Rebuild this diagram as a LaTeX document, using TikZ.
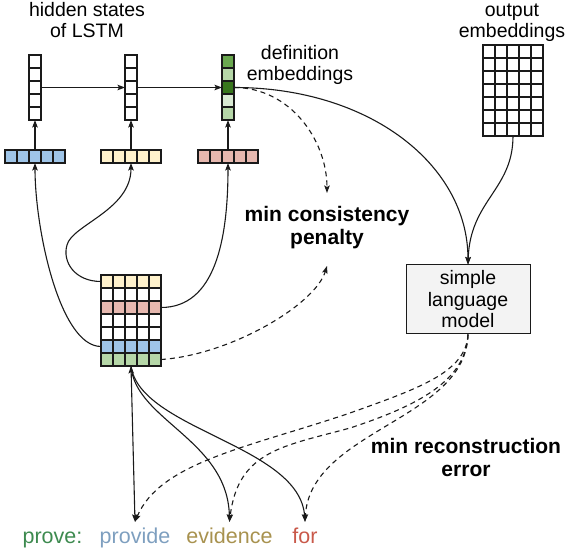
\documentclass[tikz,border=0pt]{standalone}
\usepackage{fontspec}
\setmainfont{Liberation Sans}
\usetikzlibrary{arrows.meta}
\definecolor{cblue}{HTML}{9FC5E8}
\definecolor{cyellow}{HTML}{FFF2CC}
\definecolor{cred}{HTML}{E6B8AF}
\definecolor{cgl}{HTML}{B6D7A8}
\definecolor{cgm}{HTML}{6AA84F}
\definecolor{cgd}{HTML}{38761D}
\definecolor{cgv}{HTML}{D9EAD3}
\definecolor{lmfill}{HTML}{F3F3F3}
\definecolor{wprove}{HTML}{3D8A4F}
\definecolor{wprovide}{HTML}{7E9FBF}
\definecolor{wevid}{HTML}{A8924F}
\definecolor{wfor}{HTML}{C9594A}
\definecolor{linec}{HTML}{1A1A1A}
\begin{document}
\begin{tikzpicture}[x=1pt,y=-1pt,
 cellbox/.style={draw=linec, line width=1.1pt, minimum width=12pt, minimum height=13pt, inner sep=0pt, outer sep=0pt},
 conn/.style={draw=linec, line width=1.1pt},
 tip/.style={-{Stealth[length=7.5pt,width=5.5pt,inset=1.5pt]}},
 dtip/.style={{Stealth[length=7.5pt,width=5.5pt,inset=1.5pt]}-{Stealth[length=7.5pt,width=5.5pt,inset=1.5pt]}},
 dsh/.style={dash pattern=on 5pt off 4pt},
 lbl/.style={font=\fontsize{19.5}{21.5}\selectfont, align=center, anchor=base, inner sep=0pt},
 blbl/.style={font=\fontsize{21}{23}\selectfont\bfseries, align=center, anchor=base, inner sep=0pt},
 word/.style={font=\fontsize{21.5}{24}\selectfont, anchor=base, inner xsep=0pt, inner ysep=6.5pt, text height=15pt, text depth=4pt}
]
\useasboundingbox (0,0) rectangle (566,548);

% hidden state columns
\foreach \c/\xx in {1/35,2/131}{
  \foreach \k in {1,...,5}{
    \node[cellbox, fill=white] (h\c-\k) at (\xx,{48.5+13*\k}) {};
  }
}
\foreach \k/\f in {1/cgm,2/cgl,3/cgd,4/cgv,5/cgl}{
  \node[cellbox, fill=\f] (h3-\k) at (228,{48.5+13*\k}) {};
}

% input vectors
\foreach \k in {1,...,5}{
  \node[cellbox, fill=cblue] (b-\k) at ({-1+12*\k},156.5) {};
  \node[cellbox, fill=cyellow] (y-\k) at ({95+12*\k},156.5) {};
  \node[cellbox, fill=cred] (r-\k) at ({192+12*\k},156.5) {};
}

% embedding matrix
\foreach \r/\f in {1/cyellow,2/white,3/cred,4/white,5/white,6/cblue,7/cgl}{
  \foreach \k in {1,...,5}{
    \node[cellbox, fill=\f] (m-\r-\k) at ({95+12*\k},{268.5+13*\r}) {};
  }
}

% output embeddings
\foreach \r in {1,...,7}{
  \foreach \k in {1,...,5}{
    \node[cellbox, fill=white] (o-\r-\k) at ({477+12*\k},{38.5+13*\r}) {};
  }
}

% language model box
\node[draw=linec, line width=1pt, fill=lmfill, minimum width=124pt, minimum height=69pt,
      align=center, font=\fontsize{19.5}{21.5}\selectfont, inner sep=0pt] (lm) at (468,299.5)
      {simple\\language\\model};

% labels (anchor base = baseline of the last line)
\node[lbl] (thid) at (87,38) {hidden states\\of LSTM};
\node[lbl] (tdef) at (300,81) {definition\\embeddings};
\node[lbl] (tout) at (512,38) {output\\embeddings};
\node[blbl] (tpen) at (327,245) {min consistency\\penalty};
\node[blbl] (trec) at (466,477) {min reconstruction\\error};

% words
\node[word, text=wprove] (w1) at (52.5,543.5) {prove:};
\node[word, text=wprovide] (w2) at (135,543.5) {provide};
\node[word, text=wevid] (w3) at (229.5,543.5) {evidence};
\node[word, text=wfor] (w4) at (305,543.5) {for};

\coordinate (penTop) at (327,193);
\coordinate (penBot) at (327,266);

% LSTM recurrence
\draw[conn, tip] (h1-3.east) -- (h2-3.west);
\draw[conn, tip] (h2-3.east) -- (h3-3.west);
\draw[conn, tip] (b-3.north) -- (h1-5.south);
\draw[conn, tip] (y-3.north) -- (h2-5.south);
\draw[conn, tip] (r-3.north) -- (h3-5.south);

% lookups from embedding matrix
\draw[conn, tip] (m-6-1.west) .. controls (60,346.5) and (35,230) .. (b-3.south);
\draw[conn, tip] (m-1-1.west) .. controls (75,281.5) and (62,262) .. (67,245)
                 .. controls (72,225) and (131,210) .. (y-3.south);
\draw[conn, tip] (m-3-5.east) .. controls (215,307.5) and (228,240) .. (r-3.south);

% to language model
\draw[conn, tip] (h3-3.east) .. controls (370,87.5) and (468,165) .. (lm.north);
\draw[conn, tip] (o-7-3.south) .. controls (513,190) and (470,200) .. (lm.north);

% consistency penalty
\draw[conn, dsh, tip] (h3-3.east) .. controls (290,87.5) and (327,140) .. (penTop);
\draw[conn, dsh, tip] (m-7-5.east) .. controls (230,355) and (315,305) .. (penBot);

% words to embeddings
\draw[conn, dtip] (m-7-3.south) -- (w2.north);
\draw[conn, tip] (m-7-3.south) .. controls (135,420) and (228,440) .. (w3.north);
\draw[conn, tip] (m-7-3.south) .. controls (140,430) and (300,445) .. (w4.north);

% reconstruction
\draw[conn, dsh, tip] (lm.south) .. controls (466,372) and (420,388) .. (350,413)
                 .. controls (250,447) and (160,462) .. (w2.north);
\draw[conn, dsh, tip] (lm.south) .. controls (466,380) and (420,405) .. (350,428)
                 .. controls (285,446) and (238,450) .. (w3.north);
\draw[conn, dsh, tip] (lm.south) .. controls (466,420) and (310,430) .. (w4.north);
\end{tikzpicture}
\end{document}
